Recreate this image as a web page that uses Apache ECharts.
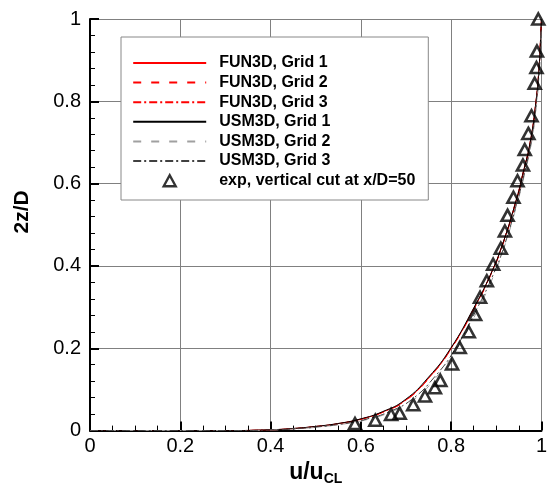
<!DOCTYPE html>
<html>
<head>
<meta charset="utf-8">
<script src="https://cdn.jsdelivr.net/npm/echarts@6/dist/echarts.min.js"></script>
<style>
html,body{margin:0;padding:0;background:#fff;}
#chart{width:550px;height:491px;}
</style>
</head>
<body>
<div id="chart"></div>
<script>
// ---- data ----
const xTicks = [0, 0.2, 0.4, 0.6, 0.8, 1];
const yTicks = [0, 0.2, 0.4, 0.6, 0.8, 1];
const seriesNames = ['FUN3D, Grid 1', 'FUN3D, Grid 2', 'FUN3D, Grid 3', 'USM3D, Grid 1', 'USM3D, Grid 2', 'USM3D, Grid 3', 'exp, vertical cut at x/D=50'];
// 2z/D levels shared by the CFD profiles
const zLevels = [0, 0, 0.002, 0.005, 0.01, 0.017, 0.028, 0.046, 0.075, 0.13, 0.2, 0.3, 0.376, 0.45, 0.567, 0.62, 0.7, 0.8, 0.886, 0.95, 1.0];
// u/uCL values of each CFD profile at those levels
const fun3dG1 = [0, 0.3, 0.4, 0.45, 0.5, 0.55, 0.6, 0.65, 0.7, 0.752, 0.8, 0.852, 0.886, 0.913, 0.946, 0.958, 0.975, 0.988, 0.995, 0.998, 1.0];
const fun3dG2 = [0, 0.3, 0.403, 0.453, 0.503, 0.553, 0.602, 0.652, 0.702, 0.753, 0.801, 0.853, 0.887, 0.914, 0.947, 0.959, 0.976, 0.988, 0.995, 0.998, 1.0];
const fun3dG3 = [0, 0.3, 0.402, 0.452, 0.502, 0.552, 0.601, 0.651, 0.701, 0.752, 0.8, 0.852, 0.886, 0.913, 0.946, 0.958, 0.975, 0.988, 0.995, 0.998, 1.0];
const usm3dG1 = [0, 0.3, 0.398, 0.448, 0.498, 0.548, 0.598, 0.648, 0.698, 0.75, 0.799, 0.851, 0.886, 0.913, 0.946, 0.958, 0.975, 0.988, 0.995, 0.998, 1.0];
const usm3dG2 = [0, 0.3, 0.418, 0.468, 0.518, 0.568, 0.618, 0.668, 0.717, 0.767, 0.813, 0.862, 0.894, 0.919, 0.95, 0.962, 0.978, 0.99, 0.996, 0.999, 1.0];
const usm3dG3 = [0, 0.3, 0.414, 0.464, 0.514, 0.564, 0.613, 0.663, 0.712, 0.763, 0.81, 0.859, 0.892, 0.918, 0.949, 0.961, 0.977, 0.989, 0.996, 0.999, 1.0];
// experiment
const expU = [0.993, 0.99, 0.989, 0.985, 0.978, 0.971, 0.963, 0.959, 0.947, 0.938, 0.925, 0.919, 0.910, 0.893, 0.879, 0.864, 0.853, 0.839, 0.819, 0.802, 0.776, 0.764, 0.742, 0.716, 0.686, 0.667, 0.632, 0.587];
const expZ = [1.0, 0.922, 0.882, 0.844, 0.765, 0.722, 0.683, 0.645, 0.607, 0.567, 0.523, 0.485, 0.443, 0.404, 0.364, 0.324, 0.282, 0.240, 0.202, 0.162, 0.122, 0.104, 0.084, 0.063, 0.042, 0.039, 0.025, 0.017];

const pair = (u, z) => u.map((v, i) => [v, z[i]]);
const FONT = 'Liberation Sans, Arial, Helvetica, sans-serif';

function lineSeries(name, u, color, type) {
  return {
    name, type: 'line', data: pair(u, zLevels), symbol: 'none', smooth: 0.5,
    lineStyle: { color, width: 1, type }, itemStyle: { color }, z: 3, animation: false
  };
}

// legend icon for the experiment: triangle centred in the wide legend slot
const triIcon = 'path://M0,0 M73,14 M30.5,12.5 L36.5,1.5 L42.5,12.5 Z';

const legendData = seriesNames.map((n, i) => i < 6
  ? { name: n, itemStyle: { opacity: 0 } }
  : { name: n, icon: triIcon, itemStyle: { color: 'rgba(255,255,255,0)', borderColor: '#000', borderWidth: 2.4 } });

const chart = echarts.init(document.getElementById('chart'), null, { renderer: 'canvas' });
chart.setOption({
  animation: false,
  backgroundColor: '#fff',
  grid: { left: 90, right: 4, top: 19, bottom: 54, containLabel: false },
  legend: {
    orient: 'vertical', left: 121, top: 37, width: 308,
    padding: [18, 13, 11, 11], itemGap: 3.6, itemWidth: 73, itemHeight: 14,
    backgroundColor: '#fff', borderColor: '#888', borderWidth: 1,
    textStyle: { fontFamily: FONT, fontWeight: 'bold', fontSize: 16, color: '#000', lineHeight: 16, padding: [0, 0, 0, 8] },
    data: legendData
  },
  xAxis: {
    type: 'value', min: xTicks[0], max: xTicks[xTicks.length - 1], interval: 0.2,
    name: '{a|u/u}{b|CL}', nameLocation: 'middle', nameGap: 27,
    nameTextStyle: { rich: { a: { fontFamily: FONT, fontWeight: 'bold', fontSize: 23, color: '#000' }, b: { fontFamily: FONT, fontWeight: 'bold', fontSize: 14, color: '#000', verticalAlign: 'bottom', padding: [12, 0, 0, 0] } } },
    axisLine: { show: true, lineStyle: { color: '#000', width: 2 } },
    axisTick: { show: true, inside: true, length: 9, lineStyle: { color: '#000', width: 2 } },
    minorTick: { show: true, splitNumber: 4, length: 5, lineStyle: { color: '#000', width: 1 } },
    axisLabel: { fontFamily: FONT, fontSize: 20, color: '#000', margin: 6, formatter: v => String(+v.toFixed(2)) },
    splitLine: { show: true, lineStyle: { color: '#808080', width: 1 } }
  },
  yAxis: {
    type: 'value', min: yTicks[0], max: yTicks[yTicks.length - 1], interval: 0.2,
    name: '2z/D', nameLocation: 'middle', nameGap: 57, nameRotate: 90,
    nameTextStyle: { fontFamily: FONT, fontWeight: 'bold', fontSize: 21, color: '#000', padding: [0, 0, 0, 26] },
    axisLine: { show: true, lineStyle: { color: '#000', width: 2 } },
    axisTick: { show: true, inside: true, length: 9, lineStyle: { color: '#000', width: 2 } },
    minorTick: { show: true, splitNumber: 5, length: 5, lineStyle: { color: '#000', width: 1 } },
    axisLabel: { fontFamily: FONT, fontSize: 20, color: '#000', margin: 9, formatter: v => String(+v.toFixed(2)) },
    splitLine: { show: true, lineStyle: { color: '#808080', width: 1 } }
  },
  series: [
    lineSeries(seriesNames[0], fun3dG1, '#ff0000', 'solid'),
    lineSeries(seriesNames[1], fun3dG2, '#ff0000', [8, 10]),
    lineSeries(seriesNames[2], fun3dG3, '#ff0000', [8, 3, 2, 3]),
    lineSeries(seriesNames[3], usm3dG1, '#000000', 'solid'),
    lineSeries(seriesNames[4], usm3dG2, '#a0a0a0', [8, 10]),
    lineSeries(seriesNames[5], usm3dG3, '#404040', [8, 3, 2, 3]),
    {
      name: seriesNames[6], type: 'scatter', data: pair(expU, expZ), clip: false,
      symbol: 'triangle', symbolSize: [12, 11],
      itemStyle: { color: 'rgba(255,255,255,0)', borderColor: '#000', borderWidth: 2.6 },
      z: 5, animation: false
    }
  ]
});
</script>
</body>
</html>
